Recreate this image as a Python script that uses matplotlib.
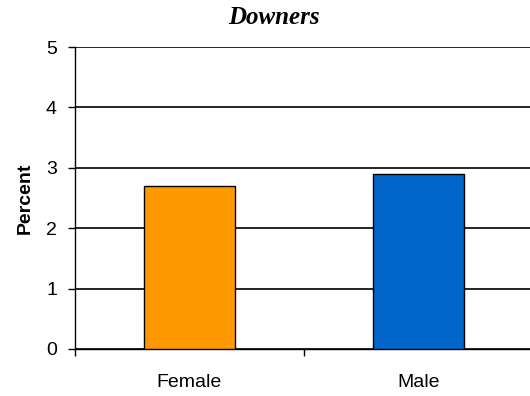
import matplotlib
matplotlib.use("Agg")
import matplotlib.pyplot as plt

# data
categories = ["Female", "Male"]
values = [2.7, 2.9]
colors = ["#FF9900", "#0066CC"]
y_ticks = [0, 1, 2, 3, 4, 5]

plt.rcParams['font.family'] = ['Liberation Sans', 'DejaVu Sans']

fig = plt.figure(figsize=(5.3, 3.96), dpi=100)
ax = fig.add_axes([0.1415, 0.1187, 0.864, 0.7623])

x = range(len(categories))
ax.bar(x, values, width=0.4, color=colors, edgecolor="black", linewidth=1, zorder=3)

ax.set_xlim(-0.5, len(categories) - 0.5)
ax.set_ylim(0, 5)
ax.set_yticks(y_ticks)
ax.yaxis.grid(True, color="black", linewidth=1.2, zorder=0)
ax.set_axisbelow(True)

# category labels centered, tick marks on the boundaries
ax.set_xticks(list(x))
ax.set_xticklabels(categories, fontsize=14)
ax.set_xticks([i - 0.5 for i in range(len(categories) + 1)], minor=True)
ax.tick_params(axis="x", which="major", length=0, pad=18)
ax.tick_params(axis="x", which="minor", length=5, width=1, color="black")
ax.tick_params(axis="y", length=5, width=1, labelsize=14, pad=8)

for side in ["top", "right"]:
    ax.spines[side].set_visible(False)
ax.spines["left"].set_linewidth(1)
ax.spines["bottom"].set_linewidth(1)

ax.set_ylabel("Percent", fontsize=14, fontweight="bold", labelpad=9)
# title sits centred over the chart area, a bit left of the axes centre
fig.text(0.517, 0.955, "Downers", fontsize=18, fontweight="bold", fontstyle="italic",
         family=["Liberation Serif"], ha="center", va="center")

fig.savefig("out.png", dpi=100)
